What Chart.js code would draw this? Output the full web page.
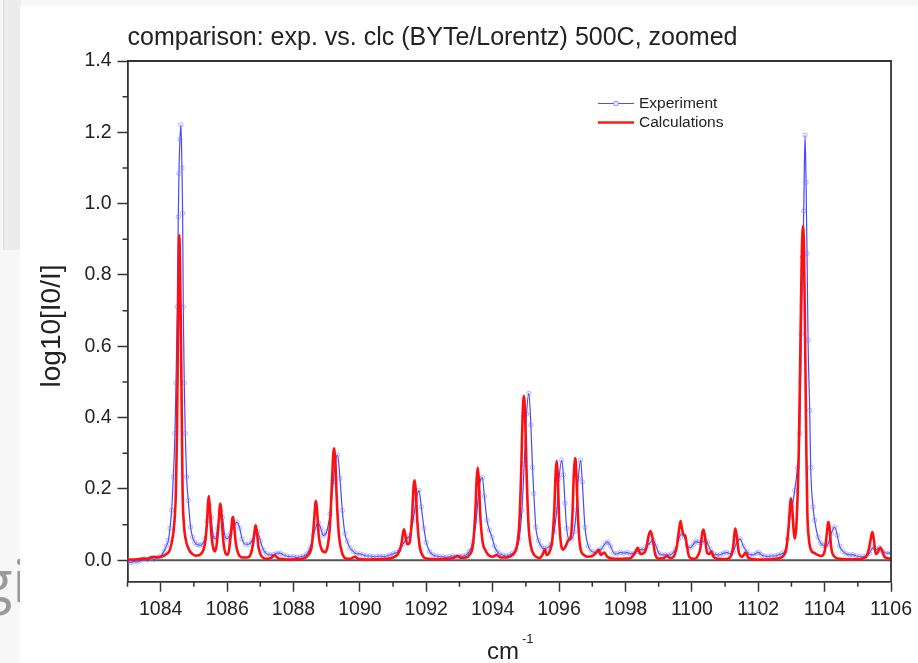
<!DOCTYPE html>
<html>
<head>
<meta charset="utf-8">
<title>comparison: exp. vs. clc</title>
<script src="https://cdn.jsdelivr.net/npm/chart.js@4.4.1/dist/chart.umd.min.js"></script>
<style>
  html, body { margin: 0; padding: 0; }
  body { width: 918px; height: 663px; position: relative; overflow: hidden; background: #f7f7f7; font-family: "Liberation Sans", Arial, sans-serif; }
  .strip { position: absolute; left: 3px; top: 0; width: 17px; height: 250px; background: #ececec; border-left: 1px solid #dadada; }
  .frag { position: absolute; left: -19px; top: 551px; font-family: "Open Sans", sans-serif; font-size: 58px; color: #9a9a9a; line-height: 1; }
  .panel { position: absolute; left: 20px; top: 6px; width: 898px; height: 657px; background: #ffffff; }
</style>
</head>
<body>
<div class="strip"></div>
<div class="frag">gi</div>
<div class="panel"><canvas id="chart" width="898" height="657"></canvas></div>

<script>
// Spectrum data (x in cm-1, y in log10[I0/I])
const expX = [
  1083.0, 1083.1, 1083.2, 1083.3, 1083.4, 1083.5, 1083.6, 1083.7, 1083.8, 1083.9,
  1084.0, 1084.1, 1084.17, 1084.23, 1084.28, 1084.33, 1084.38, 1084.43, 1084.46, 1084.50,
  1084.53, 1084.55, 1084.58, 1084.61, 1084.64, 1084.66, 1084.68, 1084.71, 1084.74, 1084.78,
  1084.83, 1084.90, 1084.96, 1085.03, 1085.10, 1085.18, 1085.25, 1085.33, 1085.40, 1085.46,
  1085.52, 1085.58, 1085.65, 1085.72, 1085.80, 1085.86, 1085.93, 1086.00, 1086.10, 1086.20,
  1086.30, 1086.38, 1086.45, 1086.55, 1086.65, 1086.75, 1086.85, 1086.92, 1087.00, 1087.10,
  1087.2, 1087.3, 1087.4, 1087.5, 1087.6, 1087.7, 1087.8, 1087.9, 1088.0, 1088.1,
  1088.2, 1088.3, 1088.4, 1088.5, 1088.6, 1088.68, 1088.75, 1088.82, 1088.90, 1089.00,
  1089.10, 1089.20, 1089.27, 1089.33, 1089.40, 1089.47, 1089.55, 1089.62, 1089.70, 1089.80,
  1089.9, 1090.0, 1090.1, 1090.2, 1090.3, 1090.4, 1090.5, 1090.6, 1090.7, 1090.8,
  1090.9, 1091.0, 1091.1, 1091.2, 1091.3, 1091.4, 1091.5, 1091.6, 1091.7, 1091.78,
  1091.85, 1091.93, 1092.0, 1092.1, 1092.2, 1092.3, 1092.4, 1092.5, 1092.6, 1092.7,
  1092.8, 1092.9, 1093.0, 1093.1, 1093.2, 1093.3, 1093.4, 1093.5, 1093.58, 1093.64,
  1093.69, 1093.75, 1093.83, 1093.90, 1093.98, 1094.05, 1094.13, 1094.2, 1094.3, 1094.4,
  1094.5, 1094.6, 1094.7, 1094.8, 1094.88, 1094.95, 1095.02, 1095.09, 1095.15, 1095.20,
  1095.24, 1095.30, 1095.38, 1095.46, 1095.55, 1095.65, 1095.75, 1095.85, 1095.93, 1096.00,
  1096.08, 1096.13, 1096.18, 1096.23, 1096.30, 1096.38, 1096.45, 1096.52, 1096.58, 1096.65,
  1096.70, 1096.78, 1096.88, 1096.98, 1097.10, 1097.20, 1097.30, 1097.40, 1097.47, 1097.55,
  1097.65, 1097.75, 1097.85, 1097.95, 1098.05, 1098.15, 1098.25, 1098.35, 1098.45, 1098.55,
  1098.65, 1098.75, 1098.84, 1098.92, 1099.00, 1099.10, 1099.20, 1099.30, 1099.40, 1099.50,
  1099.60, 1099.70, 1099.78, 1099.86, 1099.95, 1100.05, 1100.12, 1100.20, 1100.30, 1100.40,
  1100.47, 1100.55, 1100.65, 1100.75, 1100.85, 1100.95, 1101.05, 1101.15, 1101.25, 1101.35,
  1101.45, 1101.55, 1101.65, 1101.75, 1101.85, 1101.95, 1102.02, 1102.10, 1102.20, 1102.30,
  1102.40, 1102.50, 1102.60, 1102.70, 1102.80, 1102.88, 1102.95, 1103.02, 1103.10, 1103.18,
  1103.25, 1103.30, 1103.34, 1103.37, 1103.41, 1103.44, 1103.47, 1103.50, 1103.55, 1103.58,
  1103.65, 1103.70, 1103.80, 1103.88, 1103.95, 1104.03, 1104.10, 1104.20, 1104.30, 1104.38,
  1104.45, 1104.55, 1104.65, 1104.75, 1104.85, 1104.95, 1105.05, 1105.15, 1105.25, 1105.35,
  1105.45, 1105.55, 1105.65, 1105.75, 1105.85, 1106.00
];
const expY = [
  -0.004, -0.006, -0.003, -0.005, 0.000, 0.004, 0.002, 0.006, 0.003, 0.008,
  0.012, 0.025, 0.040, 0.056, 0.090, 0.140, 0.234, 0.356, 0.497, 0.711,
  0.963, 1.085, 1.180, 1.221, 1.100, 0.973, 0.710, 0.497, 0.356, 0.234,
  0.168, 0.093, 0.065, 0.050, 0.044, 0.042, 0.045, 0.060, 0.110, 0.155,
  0.120, 0.070, 0.060, 0.090, 0.140, 0.120, 0.070, 0.060, 0.075, 0.095,
  0.107, 0.090, 0.060, 0.045, 0.045, 0.055, 0.075, 0.080, 0.055, 0.028,
  0.018, 0.015, 0.016, 0.020, 0.020, 0.015, 0.012, 0.010, 0.010, 0.008,
  0.010, 0.012, 0.018, 0.035, 0.070, 0.095, 0.105, 0.090, 0.070, 0.080,
  0.130, 0.220, 0.280, 0.295, 0.230, 0.140, 0.075, 0.053, 0.035, 0.025,
  0.018, 0.018, 0.015, 0.012, 0.012, 0.010, 0.010, 0.012, 0.010, 0.012,
  0.015, 0.018, 0.022, 0.030, 0.045, 0.060, 0.070, 0.110, 0.170, 0.196,
  0.150, 0.090, 0.050, 0.025, 0.015, 0.012, 0.010, 0.010, 0.008, 0.010,
  0.012, 0.010, 0.012, 0.012, 0.015, 0.025, 0.050, 0.110, 0.190, 0.228,
  0.232, 0.180, 0.112, 0.085, 0.065, 0.040, 0.025, 0.018, 0.015, 0.012,
  0.015, 0.020, 0.030, 0.060, 0.140, 0.270, 0.410, 0.468, 0.380, 0.260,
  0.187, 0.093, 0.055, 0.040, 0.033, 0.035, 0.045, 0.080, 0.140, 0.230,
  0.281, 0.240, 0.160, 0.090, 0.060, 0.060, 0.080, 0.140, 0.230, 0.281,
  0.220, 0.093, 0.040, 0.025, 0.022, 0.025, 0.035, 0.048, 0.051, 0.040,
  0.020, 0.018, 0.022, 0.020, 0.022, 0.018, 0.020, 0.025, 0.030, 0.030,
  0.040, 0.050, 0.056, 0.040, 0.020, 0.015, 0.015, 0.015, 0.018, 0.030,
  0.060, 0.075, 0.065, 0.040, 0.035, 0.045, 0.054, 0.050, 0.050, 0.056,
  0.050, 0.030, 0.018, 0.015, 0.015, 0.020, 0.022, 0.018, 0.025, 0.050,
  0.060, 0.040, 0.025, 0.015, 0.015, 0.020, 0.022, 0.015, 0.012, 0.010,
  0.012, 0.012, 0.015, 0.018, 0.025, 0.060, 0.120, 0.150, 0.196, 0.260,
  0.356, 0.636, 0.850, 0.980, 1.192, 1.060, 0.860, 0.617, 0.420, 0.260,
  0.150, 0.112, 0.065, 0.048, 0.042, 0.040, 0.045, 0.075, 0.093, 0.070,
  0.040, 0.025, 0.018, 0.015, 0.016, 0.012, 0.010, 0.010, 0.012, 0.020,
  0.035, 0.030, 0.035, 0.025, 0.020, 0.020
];
const calcX = [
  1083.0, 1083.3, 1083.5, 1083.6, 1083.7, 1083.8, 1083.9, 1084.0, 1084.08, 1084.18,
  1084.28, 1084.38, 1084.43, 1084.46, 1084.49, 1084.52, 1084.545, 1084.56, 1084.58, 1084.61,
  1084.64, 1084.66, 1084.70, 1084.75, 1084.85, 1084.95, 1085.05, 1085.15, 1085.25, 1085.33,
  1085.39, 1085.43, 1085.45, 1085.48, 1085.52, 1085.58, 1085.63, 1085.68, 1085.74, 1085.78,
  1085.80, 1085.83, 1085.88, 1085.95, 1086.00, 1086.05, 1086.11, 1086.16, 1086.18, 1086.21,
  1086.26, 1086.33, 1086.45, 1086.60, 1086.70, 1086.78, 1086.84, 1086.86, 1086.89, 1086.95,
  1087.05, 1087.20, 1087.35, 1087.43, 1087.52, 1087.70, 1087.90, 1088.10, 1088.30, 1088.45,
  1088.55, 1088.62, 1088.66, 1088.68, 1088.71, 1088.76, 1088.85, 1088.95, 1089.03, 1089.10,
  1089.16, 1089.20, 1089.23, 1089.26, 1089.30, 1089.36, 1089.45, 1089.58, 1089.70, 1089.85,
  1089.95, 1090.20, 1090.50, 1090.80, 1091.00, 1091.15, 1091.25, 1091.31, 1091.33, 1091.37,
  1091.43, 1091.50, 1091.57, 1091.62, 1091.65, 1091.68, 1091.73, 1091.80, 1091.90, 1092.00,
  1092.30, 1092.60, 1092.80, 1092.95, 1093.05, 1093.20, 1093.30, 1093.40, 1093.47, 1093.52,
  1093.55, 1093.58, 1093.63, 1093.70, 1093.78, 1093.88, 1094.00, 1094.12, 1094.25, 1094.40,
  1094.55, 1094.65, 1094.73, 1094.80, 1094.86, 1094.90, 1094.94, 1094.98, 1095.02, 1095.08,
  1095.15, 1095.25, 1095.35, 1095.42, 1095.50, 1095.57, 1095.63, 1095.72, 1095.80, 1095.86,
  1095.90, 1095.93, 1095.96, 1096.00, 1096.06, 1096.12, 1096.20, 1096.27, 1096.31, 1096.35,
  1096.40, 1096.44, 1096.49, 1096.53, 1096.58, 1096.65, 1096.75, 1096.85, 1097.00, 1097.10,
  1097.19, 1097.26, 1097.36, 1097.45, 1097.60, 1097.80, 1098.00, 1098.15, 1098.28, 1098.37,
  1098.45, 1098.55, 1098.63, 1098.70, 1098.76, 1098.82, 1098.90, 1099.00, 1099.15, 1099.25,
  1099.35, 1099.45, 1099.55, 1099.62, 1099.66, 1099.70, 1099.76, 1099.80, 1099.85, 1099.92,
  1100.05, 1100.15, 1100.25, 1100.32, 1100.35, 1100.39, 1100.46, 1100.53, 1100.59, 1100.65,
  1100.80, 1101.00, 1101.15, 1101.24, 1101.29, 1101.31, 1101.35, 1101.42, 1101.52, 1101.62,
  1101.70, 1101.85, 1102.10, 1102.40, 1102.60, 1102.75, 1102.85, 1102.92, 1102.97, 1102.99,
  1103.02, 1103.07, 1103.10, 1103.15, 1103.22, 1103.27, 1103.31, 1103.35, 1103.38, 1103.42,
  1103.45, 1103.48, 1103.52, 1103.58, 1103.70, 1103.90, 1104.00, 1104.06, 1104.10, 1104.12,
  1104.15, 1104.20, 1104.30, 1104.45, 1104.70, 1104.95, 1105.15, 1105.28, 1105.36, 1105.42,
  1105.44, 1105.48, 1105.54, 1105.60, 1105.67, 1105.72, 1105.80, 1105.90, 1106.00
];
const calcY = [
  0.002, 0.003, 0.005, 0.004, 0.008, 0.010, 0.008, 0.010, 0.012, 0.018,
  0.030, 0.076, 0.130, 0.200, 0.356, 0.636, 0.860, 0.912, 0.840, 0.636,
  0.356, 0.190, 0.100, 0.060, 0.030, 0.018, 0.013, 0.014, 0.022, 0.045,
  0.100, 0.165, 0.180, 0.150, 0.080, 0.035, 0.025, 0.040, 0.100, 0.150,
  0.159, 0.130, 0.060, 0.020, 0.016, 0.025, 0.070, 0.118, 0.122, 0.100,
  0.050, 0.020, 0.008, 0.008, 0.015, 0.045, 0.090, 0.098, 0.085, 0.035,
  0.010, 0.004, 0.008, 0.015, 0.007, 0.003, 0.002, 0.003, 0.005, 0.015,
  0.040, 0.110, 0.160, 0.166, 0.140, 0.070, 0.030, 0.023, 0.040, 0.100,
  0.220, 0.300, 0.314, 0.280, 0.180, 0.080, 0.025, 0.005, 0.004, 0.010,
  0.004, 0.002, 0.003, 0.004, 0.008, 0.018, 0.045, 0.082, 0.087, 0.070,
  0.045, 0.050, 0.120, 0.210, 0.224, 0.200, 0.110, 0.040, 0.012, 0.005,
  0.003, 0.004, 0.006, 0.012, 0.007, 0.008, 0.015, 0.040, 0.120, 0.230,
  0.260, 0.230, 0.120, 0.050, 0.028, 0.014, 0.010, 0.015, 0.008, 0.008,
  0.012, 0.020, 0.040, 0.100, 0.250, 0.400, 0.461, 0.400, 0.250, 0.100,
  0.040, 0.015, 0.008, 0.006, 0.015, 0.030, 0.015, 0.025, 0.060, 0.150,
  0.250, 0.279, 0.240, 0.120, 0.045, 0.030, 0.040, 0.055, 0.059, 0.065,
  0.120, 0.230, 0.287, 0.220, 0.100, 0.030, 0.015, 0.010, 0.012, 0.020,
  0.030, 0.015, 0.022, 0.010, 0.005, 0.004, 0.005, 0.006, 0.020, 0.035,
  0.018, 0.020, 0.035, 0.070, 0.082, 0.060, 0.015, 0.005, 0.006, 0.012,
  0.006, 0.010, 0.040, 0.090, 0.110, 0.090, 0.070, 0.070, 0.040, 0.010,
  0.004, 0.008, 0.030, 0.080, 0.086, 0.070, 0.020, 0.018, 0.025, 0.010,
  0.004, 0.003, 0.008, 0.035, 0.080, 0.089, 0.070, 0.020, 0.010, 0.022,
  0.007, 0.003, 0.002, 0.003, 0.005, 0.012, 0.035, 0.100, 0.165, 0.173,
  0.150, 0.080, 0.061, 0.100, 0.300, 0.600, 0.850, 0.937, 0.860, 0.550,
  0.300, 0.130, 0.065, 0.031, 0.020, 0.012, 0.025, 0.070, 0.103, 0.107,
  0.090, 0.035, 0.010, 0.004, 0.003, 0.003, 0.005, 0.015, 0.045, 0.075,
  0.079, 0.060, 0.018, 0.022, 0.036, 0.030, 0.010, 0.006, 0.005
];

const seriesNames = ['Experiment', 'Calculations'];
const xMajorTicks = [1084, 1086, 1088, 1090, 1092, 1094, 1096, 1098, 1100, 1102, 1104, 1106];
const xMinorTicks = [1083, 1085, 1087, 1089, 1091, 1093, 1095, 1097, 1099, 1101, 1103, 1105];
const yMajorTicks = [0.0, 0.2, 0.4, 0.6, 0.8, 1.0, 1.2, 1.4];
const yMinorTicks = [0.1, 0.3, 0.5, 0.7, 0.9, 1.1, 1.3];
const chartTitle = 'comparison: exp. vs. clc (BYTe/Lorentz) 500C, zoomed';
const yTitle = 'log10[I0/I]';

const FONT = '"Liberation Sans", Arial, sans-serif';
Chart.defaults.font.family = FONT;
Chart.defaults.color = '#222';

const toPoints = (xs, ys) => xs.map((v, i) => ({ x: v, y: ys[i] }));

// Extra drawing: title, frame, zero line, minor ticks, legend, axis titles
const decor = {
  id: 'decor',
  beforeDatasetsDraw(chart) {
    const { ctx, chartArea: a, scales: { y } } = chart;
    const y0 = y.getPixelForValue(0);
    ctx.save();
    ctx.strokeStyle = '#555';
    ctx.lineWidth = 2;
    ctx.beginPath();
    ctx.moveTo(a.left, y0);
    ctx.lineTo(a.right, y0);
    ctx.stroke();
    ctx.restore();
  },
  afterDraw(chart) {
    const { ctx, chartArea: a, scales: { x, y } } = chart;
    ctx.save();

    // top and right frame
    ctx.strokeStyle = '#333';
    ctx.lineWidth = 1.8;
    ctx.beginPath();
    ctx.moveTo(a.left, a.top);
    ctx.lineTo(a.right, a.top);
    ctx.lineTo(a.right, a.bottom);
    ctx.stroke();

    // minor ticks
    ctx.lineWidth = 1.5;
    ctx.beginPath();
    xMinorTicks.forEach(v => {
      const px = x.getPixelForValue(v);
      ctx.moveTo(px, a.bottom);
      ctx.lineTo(px, a.bottom + 5);
    });
    yMinorTicks.forEach(v => {
      const py = y.getPixelForValue(v);
      ctx.moveTo(a.left - 5, py);
      ctx.lineTo(a.left, py);
    });
    ctx.stroke();

    // title
    ctx.fillStyle = '#222';
    ctx.font = '25px ' + FONT;
    ctx.textAlign = 'left';
    ctx.textBaseline = 'middle';
    ctx.fillText(chartTitle, a.left, 32);

    // legend
    const lx = 578, lw = 36;
    ctx.lineWidth = 1.2;
    ctx.strokeStyle = 'rgba(60,60,255,0.9)';
    ctx.beginPath();
    ctx.moveTo(lx, 97.5);
    ctx.lineTo(lx + lw, 97.5);
    ctx.stroke();
    ctx.strokeStyle = 'rgba(120,120,255,0.7)';
    ctx.fillStyle = '#fff';
    ctx.beginPath();
    ctx.arc(lx + lw / 2, 97.5, 2.2, 0, Math.PI * 2);
    ctx.fill();
    ctx.stroke();
    ctx.strokeStyle = '#ff1a1a';
    ctx.lineWidth = 2.5;
    ctx.beginPath();
    ctx.moveTo(lx, 116.5);
    ctx.lineTo(lx + lw, 116.5);
    ctx.stroke();
    ctx.fillStyle = '#222';
    ctx.font = '15.5px ' + FONT;
    ctx.fillText(seriesNames[0], lx + lw + 5, 97.5);
    ctx.fillText(seriesNames[1], lx + lw + 5, 116.5);

    // x axis title cm^-1
    ctx.font = '24px ' + FONT;
    ctx.textBaseline = 'alphabetic';
    ctx.fillText('cm', 467, 653);
    ctx.font = '13px ' + FONT;
    ctx.fillText('-1', 502, 637);

    // y axis title
    ctx.translate(32, 320);
    ctx.rotate(-Math.PI / 2);
    ctx.textAlign = 'center';
    ctx.textBaseline = 'middle';
    ctx.font = '28px ' + FONT;
    ctx.fillText(yTitle, 0, 0);

    ctx.restore();
  }
};

new Chart(document.getElementById('chart'), {
  type: 'line',
  data: {
    datasets: [
      {
        label: seriesNames[1],
        data: toPoints(calcX, calcY),
        borderColor: '#ff1010',
        borderWidth: 2.6,
        pointRadius: 0,
        cubicInterpolationMode: 'monotone',
        order: 0
      },
      {
        label: seriesNames[0],
        data: toPoints(expX, expY),
        borderColor: 'rgba(40,40,255,0.85)',
        borderWidth: 1.2,
        pointRadius: 2.2,
        pointBorderWidth: 1,
        pointBorderColor: 'rgba(120,120,255,0.55)',
        pointBackgroundColor: 'rgba(255,255,255,0)',
        cubicInterpolationMode: 'monotone',
        order: 1
      }
    ]
  },
  options: {
    responsive: false,
    devicePixelRatio: 1,
    animation: false,
    layout: { padding: { left: 0, top: 55, right: 25.3, bottom: 0 } },
    plugins: {
      legend: { display: false },
      title: { display: false },
      tooltip: { enabled: false }
    },
    scales: {
      x: {
        type: 'linear',
        min: 1083,
        max: 1106,
        afterBuildTicks: s => { s.ticks = xMajorTicks.map(v => ({ value: v })); },
        afterFit: s => { s.height = 81.3; },
        border: { display: true, color: '#333', width: 1.8 },
        grid: { display: true, drawOnChartArea: false, drawTicks: true, tickLength: 10, tickColor: '#333', tickWidth: 1.5 },
        ticks: { font: { size: 19.5 }, color: '#222', padding: 6, maxRotation: 0, autoSkip: false, callback: v => String(v) }
      },
      y: {
        type: 'linear',
        min: -0.06,
        max: 1.4,
        afterBuildTicks: s => { s.ticks = yMajorTicks.map(v => ({ value: v })); },
        afterFit: s => { s.width = 107.5; },
        border: { display: true, color: '#333', width: 1.8 },
        grid: { display: true, drawOnChartArea: false, drawTicks: true, tickLength: 10, tickColor: '#333', tickWidth: 1.5 },
        ticks: { font: { size: 19.5 }, color: '#222', padding: 6, callback: v => v.toFixed(1) }
      }
    }
  },
  plugins: [decor]
});
</script>
</body>
</html>
